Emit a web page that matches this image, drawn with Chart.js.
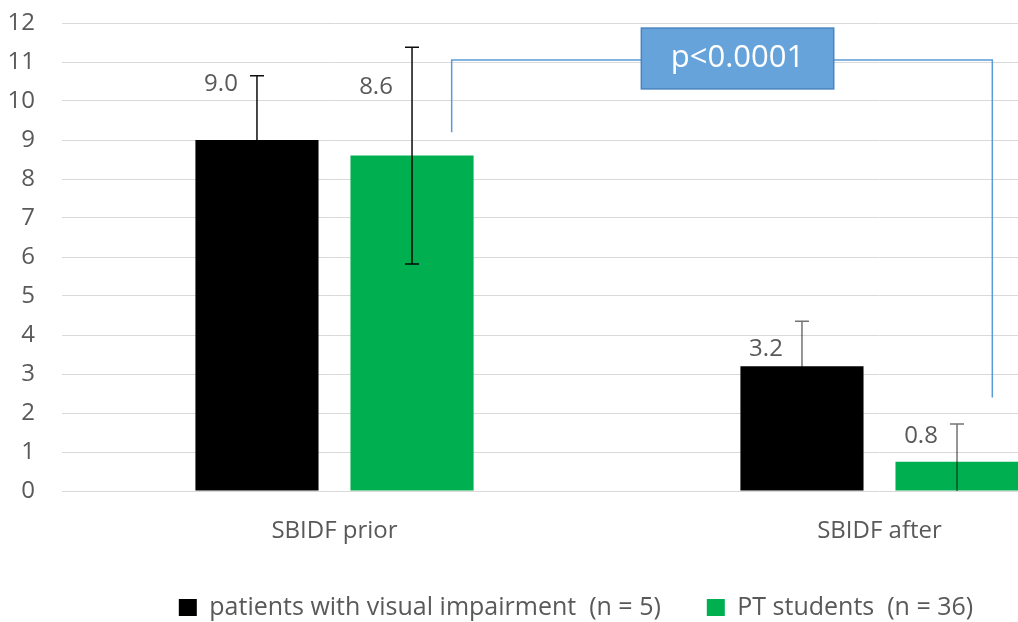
<!DOCTYPE html>
<html>
<head>
<meta charset="utf-8">
<script src="https://cdn.jsdelivr.net/npm/chart.js@4.4.1/dist/chart.umd.min.js"></script>
<style>
  html, body { margin: 0; padding: 0; background: #fff; overflow: hidden; }
  #wrap { position: relative; width: 1160px; height: 630px; }
</style>
</head>
<body>
<div id="wrap"><canvas id="sbidfChart"></canvas></div>
<script>
// values
const categories = ['SBIDF prior', 'SBIDF after'];
const seriesNames = ['patients with visual impairment  (n = 5)', 'PT students  (n = 36)'];
const patientsMean = [9.0, 3.2];
const patientsErr = [1.65, 1.15];
const studentsMean = [8.6, 0.75];
const studentsErr = [2.78, 0.97];
const yMin = 0, yMax = 12, yStep = 1;
const pValueText = 'p<0.0001';

// styling
const FONT = "'Open Sans', 'Noto Sans', sans-serif";
const TEXT_GREY = '#595959';
const errColors = ['rgba(0,0,0,0.95)', 'rgba(0,0,0,0.55)'];   // per category
const labelLift = [[56, 17], [68, 26]];                        // px above bar top, per dataset/category

const errorBarPlugin = {
    id: 'errorBars',
    afterDatasetsDraw(chart) {
        const {ctx, chartArea, scales: {y}} = chart;
        ctx.save();
        ctx.beginPath();
        ctx.rect(chartArea.left, 0, chartArea.width, chartArea.bottom);
        ctx.clip();
        chart.data.datasets.forEach((ds, di) => {
            chart.getDatasetMeta(di).data.forEach((bar, i) => {
                const v = ds.data[i], e = ds.errors[i];
                const top = y.getPixelForValue(v + e);
                const bot = y.getPixelForValue(v - e);
                ctx.strokeStyle = errColors[i];
                ctx.lineWidth = 1.5;
                ctx.beginPath();
                ctx.moveTo(bar.x, bot);
                ctx.lineTo(bar.x, top);
                ctx.moveTo(bar.x - 7, top);
                ctx.lineTo(bar.x + 7, top);
                if (v - e >= 0) {
                    ctx.moveTo(bar.x - 7, bot);
                    ctx.lineTo(bar.x + 7, bot);
                }
                ctx.stroke();
            });
        });
        ctx.restore();
    }
};

const valueLabelPlugin = {
    id: 'valueLabels',
    afterDatasetsDraw(chart) {
        const {ctx} = chart;
        ctx.save();
        ctx.font = '24px ' + FONT;
        ctx.fillStyle = TEXT_GREY;
        ctx.textAlign = 'center';
        ctx.textBaseline = 'middle';
        chart.data.datasets.forEach((ds, di) => {
            chart.getDatasetMeta(di).data.forEach((bar, i) => {
                ctx.fillText(ds.data[i].toFixed(1), bar.x - 36, bar.y - labelLift[di][i]);
            });
        });
        ctx.restore();
    }
};

// significance bracket between the two groups
const bracketPlugin = {
    id: 'bracket',
    afterDraw(chart) {
        const {ctx, scales: {x, y}} = chart;
        const xl = x.getPixelForValue(0.215), xr = x.getPixelForValue(1.207);
        const yTop = y.getPixelForValue(11.05);
        ctx.save();
        ctx.strokeStyle = '#5b9bd5';
        ctx.lineWidth = 1.5;
        ctx.beginPath();
        ctx.moveTo(xl, y.getPixelForValue(9.2));
        ctx.lineTo(xl, yTop);
        ctx.lineTo(xr, yTop);
        ctx.lineTo(xr, y.getPixelForValue(2.4));
        ctx.stroke();

        const bx = x.getPixelForValue(0.563), bx2 = x.getPixelForValue(0.916);
        const by = y.getPixelForValue(11.87), by2 = y.getPixelForValue(10.31);
        ctx.fillStyle = '#66a3db';
        ctx.fillRect(bx, by, bx2 - bx, by2 - by);
        ctx.strokeStyle = '#4a84bf';
        ctx.lineWidth = 1.5;
        ctx.strokeRect(bx, by, bx2 - bx, by2 - by);
        ctx.fillStyle = '#ffffff';
        ctx.font = '31px ' + FONT;
        ctx.textAlign = 'center';
        ctx.textBaseline = 'middle';
        ctx.fillText(pValueText, (bx + bx2) / 2, (by + by2) / 2);
        ctx.restore();
    }
};

const ctx = document.getElementById('sbidfChart').getContext('2d');
const sbidfChart = new Chart(ctx, {
    type: 'bar',
    data: {
        labels: categories,
        datasets: [{
            label: seriesNames[0],
            data: patientsMean,
            errors: patientsErr,
            backgroundColor: '#000000',
            barPercentage: 0.794,
            categoryPercentage: 0.569
        },
        {
            label: seriesNames[1],
            data: studentsMean,
            errors: studentsErr,
            backgroundColor: '#00b050',
            barPercentage: 0.794,
            categoryPercentage: 0.569
        }]
    },
    options: {
        responsive: true,
        maintainAspectRatio: false,
        animation: false,
        layout: { padding: { top: 23, right: 8, left: 0, bottom: 0 } },
        scales: {
            x: {
                grid: { display: false },
                border: { display: false },
                ticks: { color: TEXT_GREY, font: { family: FONT, size: 24 }, padding: 18 },
                afterFit(scale) { scale.height = 58; }
            },
            y: {
                min: yMin,
                max: yMax,
                border: { display: false },
                grid: { color: '#d9d9d9', lineWidth: 1, drawTicks: false },
                ticks: { stepSize: yStep, color: TEXT_GREY, font: { family: FONT, size: 24 }, padding: 27 },
                afterFit(scale) {
                    scale.width = 62;
                    scale.paddingTop = 0;
                    scale.paddingBottom = 0;
                }
            }
        },
        plugins: {
            legend: {
                position: 'bottom',
                labels: {
                    color: TEXT_GREY,
                    font: { family: FONT, size: 25 },
                    boxWidth: 18,
                    boxHeight: 17,
                    padding: 46
                }
            },
            tooltip: { enabled: false }
        }
    },
    plugins: [errorBarPlugin, valueLabelPlugin, bracketPlugin]
});
</script>
</body>
</html>
